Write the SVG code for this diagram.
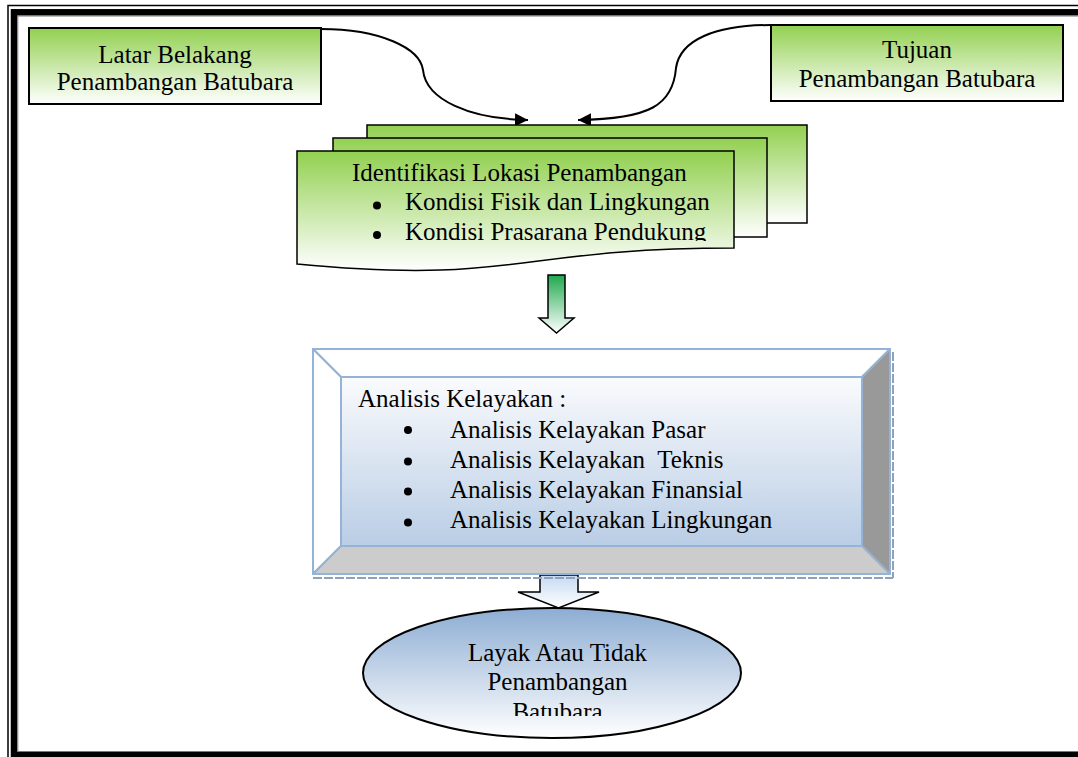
<svg xmlns="http://www.w3.org/2000/svg" width="1078" height="757" viewBox="0 0 1078 757">
<style>
text{font-family:"Liberation Serif","Times New Roman",serif;font-size:25px;fill:#000}
.c{text-anchor:middle}
.box{stroke:#000;stroke-width:2}
.doc{stroke:#000;stroke-width:1.5}
.bev{stroke:#95B3D7;stroke-width:2;stroke-linejoin:round}
.con{fill:none;stroke:#000;stroke-width:2}
</style>
<defs>
<linearGradient id="gG" x1="0" y1="0" x2="0" y2="1"><stop offset="0" stop-color="#92D050"/><stop offset="1" stop-color="#FFFFFF"/></linearGradient>
<linearGradient id="gA" x1="0" y1="0" x2="0" y2="1"><stop offset="0" stop-color="#1FA84E"/><stop offset="1" stop-color="#FFFFFF"/></linearGradient>
<linearGradient id="gF" x1="0" y1="0" x2="0" y2="1"><stop offset="0" stop-color="#FAFBFD"/><stop offset="1" stop-color="#B9CDE5"/></linearGradient>
<linearGradient id="gE" x1="0" y1="0" x2="0" y2="1"><stop offset="0" stop-color="#8DADD3"/><stop offset="1" stop-color="#FFFFFF"/></linearGradient>
<linearGradient id="gB" x1="0" y1="0" x2="0" y2="1"><stop offset="0" stop-color="#C6D9F1"/><stop offset="1" stop-color="#FFFFFF"/></linearGradient>
<marker id="ah" markerUnits="userSpaceOnUse" markerWidth="14" markerHeight="14" refX="13" refY="6.5" orient="auto"><path d="M0,0 L13,6.5 L0,13 Z" fill="#000"/></marker>
<clipPath id="cDoc"><rect x="290" y="140" width="460" height="101"/></clipPath>
<clipPath id="cEl"><rect x="360" y="600" width="390" height="116"/></clipPath>
</defs>
<rect width="1078" height="757" fill="#fff"/>
<g id="frame" fill="none">
<rect x="8" y="5.5" width="1090" height="770" stroke="#000" stroke-width="1.5"/>
<rect x="14" y="12.3" width="1090" height="742.7" stroke="#000" stroke-width="6.5"/>
<rect x="17.8" y="16" width="1090" height="735.5" stroke="#777" stroke-width="1"/>
</g>
<g id="connectors">
<path class="con" d="M321,29 C380,29 420,48 423,70 C426,100 470,119 528,120" marker-end="url(#ah)"/>
<path class="con" d="M771,25 C715,25 680,40 676,68 C673,105 650,119 578,120" marker-end="url(#ah)"/>
<path d="M548,275 H565 V318 H574 L556.5,333 L539,318 H548 Z" fill="url(#gA)" stroke="#000" stroke-width="1.5"/>
<path d="M540,575 H578 V592 H599 L558.5,608 L518,592 H540 Z" fill="url(#gB)" stroke="#000" stroke-width="1.5"/>
</g>
<g id="latar">
<rect class="box" x="29" y="28" width="292" height="76" fill="url(#gG)"/>
<text class="c" x="175" y="62.7">Latar Belakang</text>
<text class="c" x="175" y="90">Penambangan Batubara</text>
</g>
<g id="tujuan">
<rect class="box" x="771" y="25" width="292" height="76" fill="url(#gG)"/>
<text class="c" x="917" y="57.5">Tujuan</text>
<text class="c" x="917" y="87.3">Penambangan Batubara</text>
</g>
<g id="identifikasi">
<rect class="doc" x="367" y="125" width="440" height="98" fill="url(#gG)"/>
<rect class="doc" x="333" y="138" width="434" height="99" fill="url(#gG)"/>
<path class="doc" d="M297,151 H734 V248 C515.5,248 515.5,285 297,264 Z" fill="url(#gG)"/>
<g clip-path="url(#cDoc)">
<text x="352" y="181">Identifikasi Lokasi Penambangan</text>
<circle cx="377" cy="205.5" r="4"/>
<text x="405" y="210">Kondisi Fisik dan Lingkungan</text>
<circle cx="377" cy="235" r="4"/>
<text x="405" y="240">Kondisi Prasarana Pendukung</text>
</g>
</g>
<g id="analisis">
<path d="M313,578 H893 M893,352 V578" fill="none" stroke="#8FA2BC" stroke-width="2" stroke-dasharray="9 2"/>
<rect x="313" y="349" width="577" height="225" fill="#fff" class="bev"/>
<polygon class="bev" points="313,349 890,349 862,377 341,377" fill="#FFFFFF"/>
<polygon class="bev" points="313,349 341,377 341,546 313,574" fill="#FFFFFF"/>
<polygon class="bev" points="890,349 890,574 862,546 862,377" fill="#999999"/>
<polygon class="bev" points="313,574 890,574 862,546 341,546" fill="#CCCCCC"/>
<rect class="bev" x="341" y="377" width="521" height="169" fill="url(#gF)"/>
<text x="358" y="407">Analisis Kelayakan :</text>
<circle cx="408" cy="430" r="4"/>
<text x="450" y="438">Analisis Kelayakan Pasar</text>
<circle cx="408" cy="461.5" r="4"/>
<text x="450" y="468" xml:space="preserve">Analisis Kelayakan  Teknis</text>
<circle cx="408" cy="491.5" r="4"/>
<text x="450" y="498">Analisis Kelayakan Finansial</text>
<circle cx="408" cy="522.5" r="4"/>
<text x="450" y="528">Analisis Kelayakan Lingkungan</text>
</g>
<g id="hasil">
<ellipse cx="552" cy="673" rx="189" ry="65" fill="url(#gE)" stroke="#000" stroke-width="2"/>
<g clip-path="url(#cEl)">
<text class="c" x="557.5" y="660.7">Layak Atau Tidak</text>
<text class="c" x="557.5" y="690">Penambangan</text>
<text class="c" x="557.5" y="720">Batubara</text>
</g>
</g>
</svg>
